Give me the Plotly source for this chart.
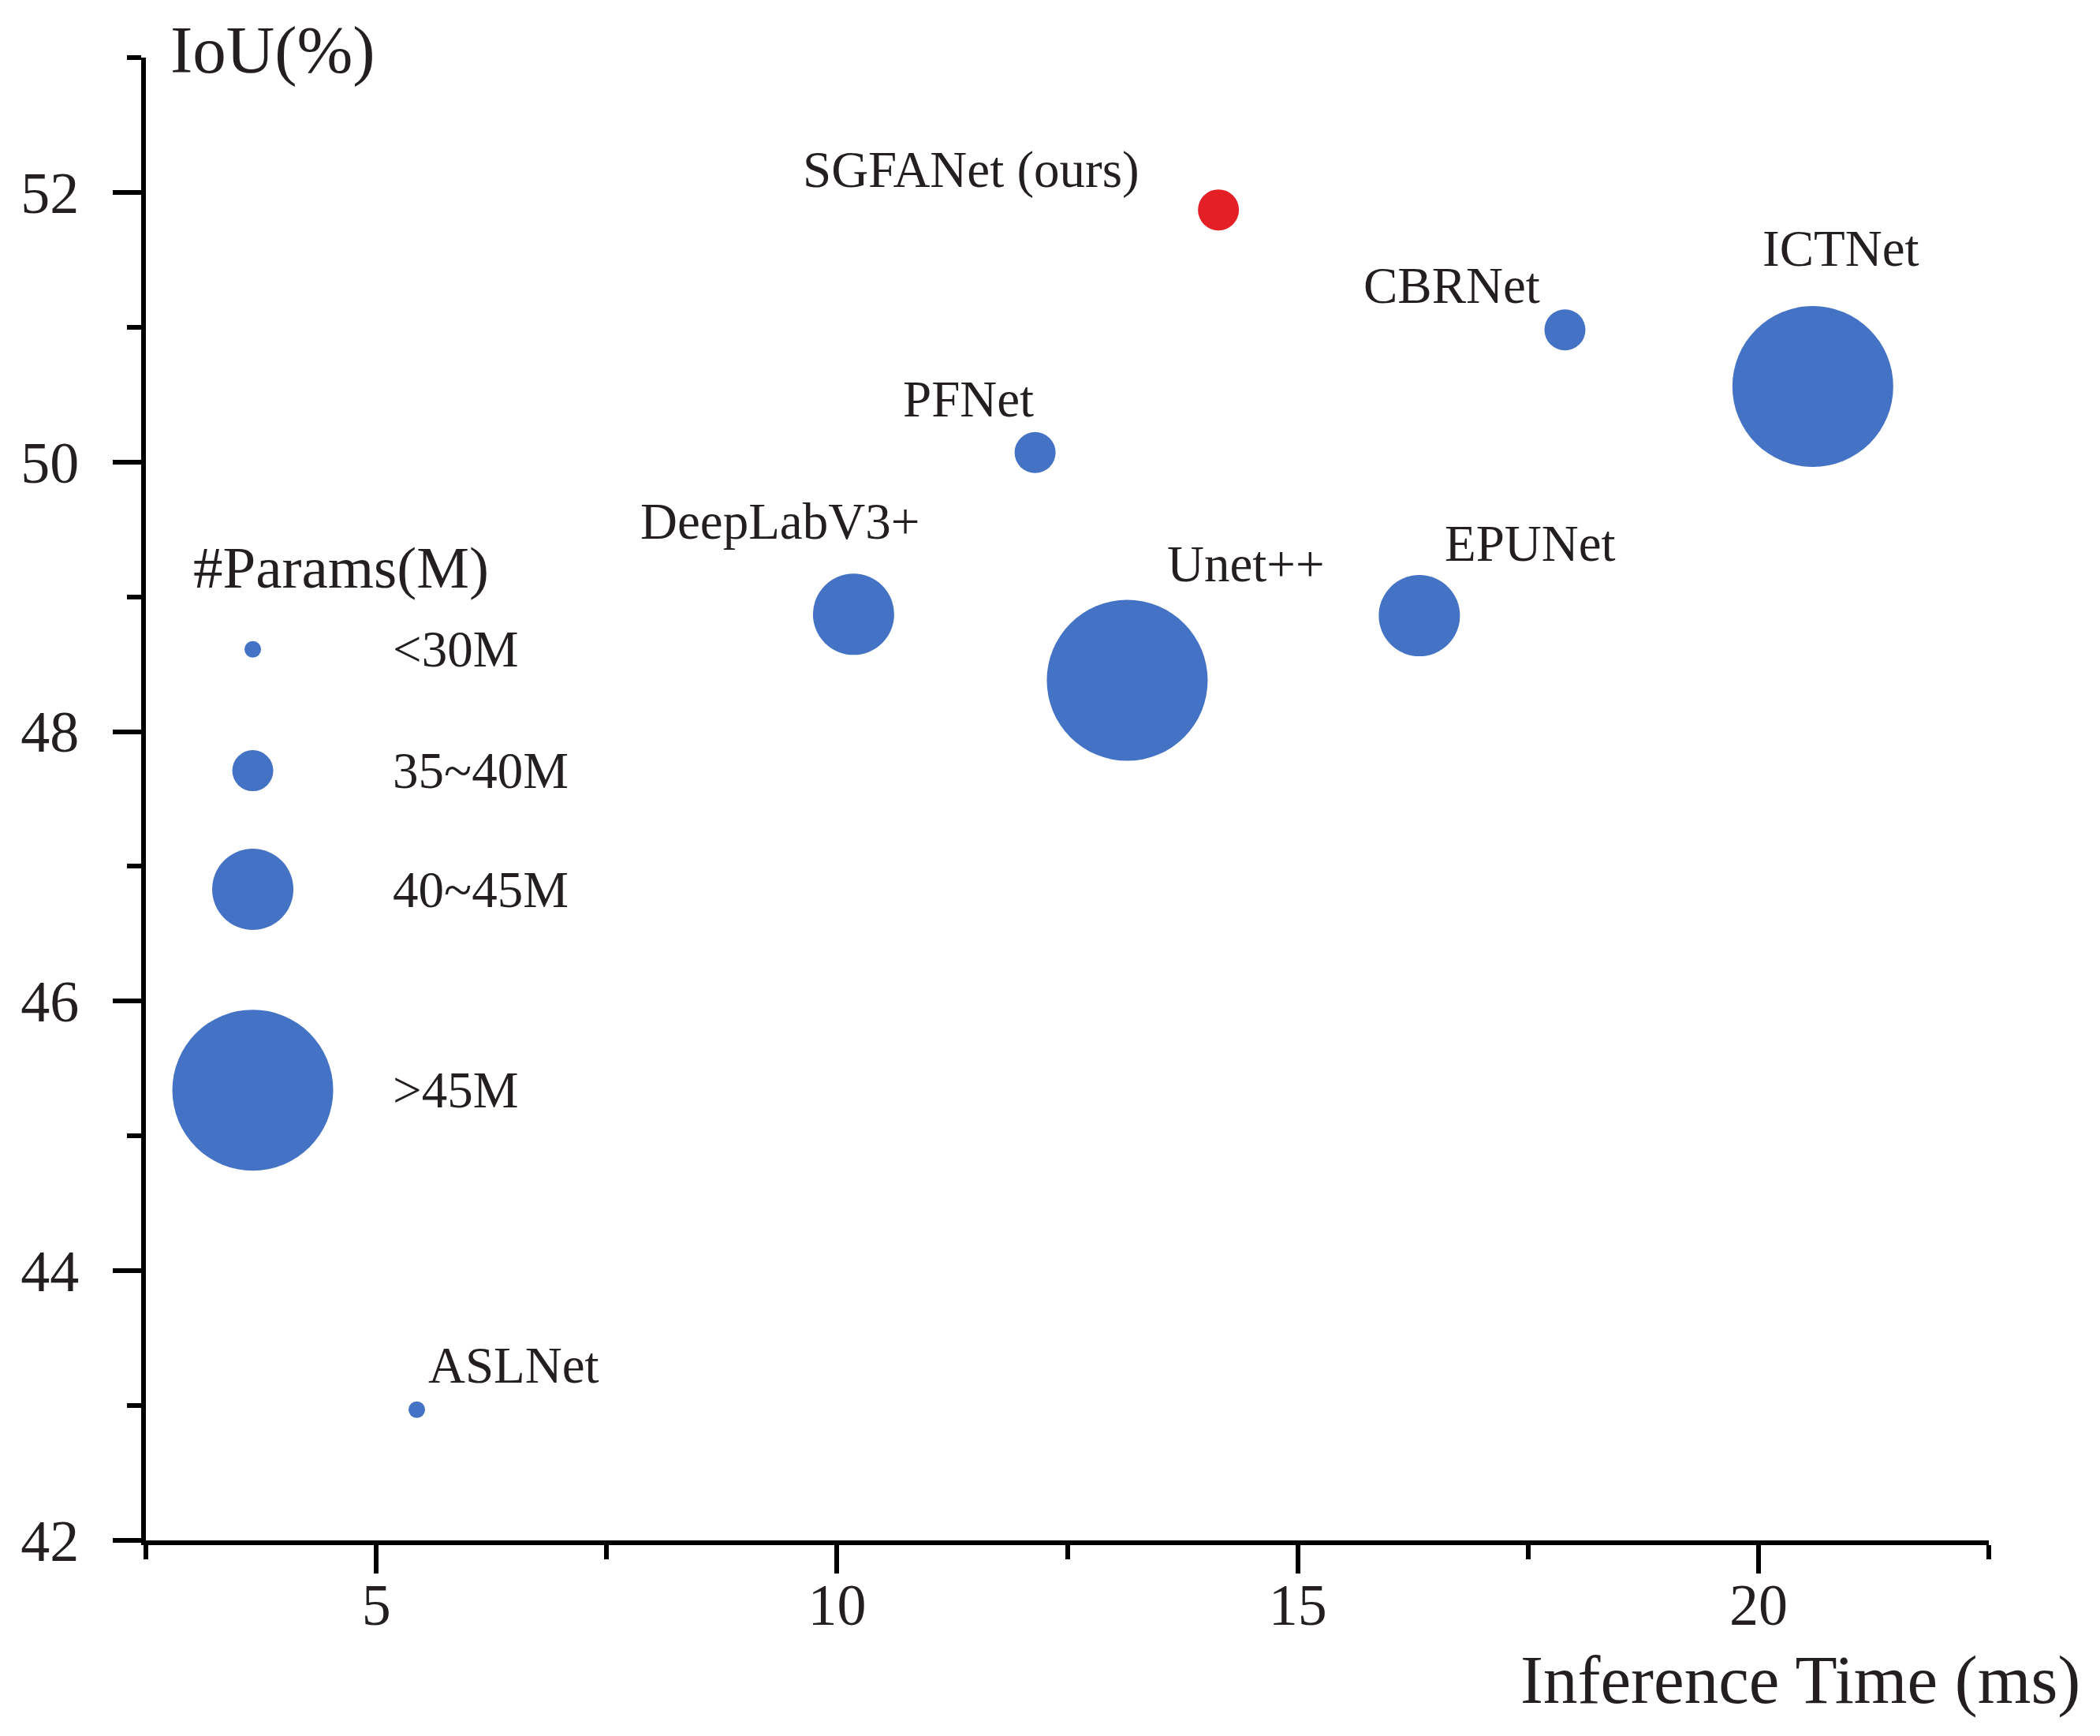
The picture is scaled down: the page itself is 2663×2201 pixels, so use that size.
import plotly.graph_objects as go

# Data
models = ['SGFANet (ours)', 'CBRNet', 'ICTNet', 'PFNet', 'DeepLabV3+', 'Unet++', 'EPUNet', 'ASLNet']
infer_ms = [14.14, 17.9, 20.59, 12.15, 10.18, 13.15, 16.32, 5.44]
iou = [51.87, 50.98, 50.56, 50.07, 48.87, 48.38, 48.86, 42.97]
param_class = ['35~40M', '35~40M', '>45M', '35~40M', '40~45M', '>45M', '40~45M', '<30M']

legend_classes = ['<30M', '35~40M', '40~45M', '>45M']

# Styles
FONT = 'Liberation Serif'
TXT = '#231f20'
BLUE = '#4472c4'
RED = '#e41f26'
size_px = {'<30M': 21, '35~40M': 52, '40~45M': 103, '>45M': 204}
# label offsets in px (right, up) from each point
label_dx = [-314, -143, 36, -85, -93, 151, 141, 123]
label_dy = [51, 56, 175, 68, 118, 148, 92, 56]
# hand-placed legend block (data coords)
leg_x = 3.66
leg_y = [48.61, 47.71, 46.83, 45.34]
leg_text_x = 5.16
leg_title_pos = (4.62, 49.22)

colors = [RED if m.endswith('(ours)') else BLUE for m in models]
sizes = [size_px[c] for c in param_class]

fig = go.Figure()
fig.add_trace(go.Scatter(x=[leg_x] * len(legend_classes), y=leg_y, mode='markers',
                         marker=dict(size=[size_px[c] for c in legend_classes], color=BLUE,
                                     opacity=1, line=dict(width=0)),
                         showlegend=False, hoverinfo='skip', cliponaxis=False))
fig.add_trace(go.Scatter(x=infer_ms, y=iou, mode='markers', text=models,
                         marker=dict(size=sizes, color=colors, opacity=1, line=dict(width=0)),
                         showlegend=False, cliponaxis=False))

for m, x, y, dx, dy in zip(models, infer_ms, iou, label_dx, label_dy):
    fig.add_annotation(x=x, y=y, text=m, showarrow=False, xshift=dx, yshift=dy,
                       xanchor='center', yanchor='middle',
                       font=dict(family=FONT, size=65, color=TXT))

fig.add_annotation(x=leg_title_pos[0], y=leg_title_pos[1], text='#Params(M)', showarrow=False,
                   xanchor='center', yanchor='middle', font=dict(family=FONT, size=75, color=TXT))
for c, y in zip(legend_classes, leg_y):
    fig.add_annotation(x=leg_text_x, y=y, text=c, showarrow=False, xanchor='left', yanchor='middle',
                       font=dict(family=FONT, size=65, color=TXT))

# axis titles
fig.add_annotation(xref='paper', yref='paper', x=0.0125, y=1.005, text='IoU(%)', showarrow=False,
                   xanchor='left', yanchor='middle', font=dict(family=FONT, size=85, color=TXT))
fig.add_annotation(xref='paper', yref='paper', x=1.0504, y=-0.094, text='Inference Time (ms)',
                   showarrow=False, xanchor='right', yanchor='middle',
                   font=dict(family=FONT, size=87, color=TXT))

axis_common = dict(showline=True, linecolor='black', linewidth=6, ticks='outside', ticklen=36,
                   tickwidth=6, tickcolor='black', showgrid=False, zeroline=False,
                   tickfont=dict(family=FONT, size=74, color=TXT))
fig.update_xaxes(range=[2.5, 22.5], tick0=0, dtick=5, ticklabelstandoff=-24,
                 minor=dict(ticks='outside', ticklen=18, tickwidth=6, tickcolor='black',
                            tick0=0, dtick=2.5), **axis_common)
fig.update_yaxes(range=[42, 53], tick0=0, dtick=2, ticklabelstandoff=28,
                 minor=dict(ticks='outside', ticklen=18, tickwidth=6, tickcolor='black',
                            tick0=0, dtick=1), **axis_common)

# page body has an 8px margin, so the figure is 8px smaller than the window
fig.update_layout(width=2655, height=2193, plot_bgcolor='white', paper_bgcolor='white',
                  margin=dict(l=177, r=141, t=65, b=248), showlegend=False)

fig.write_html("out.html")
